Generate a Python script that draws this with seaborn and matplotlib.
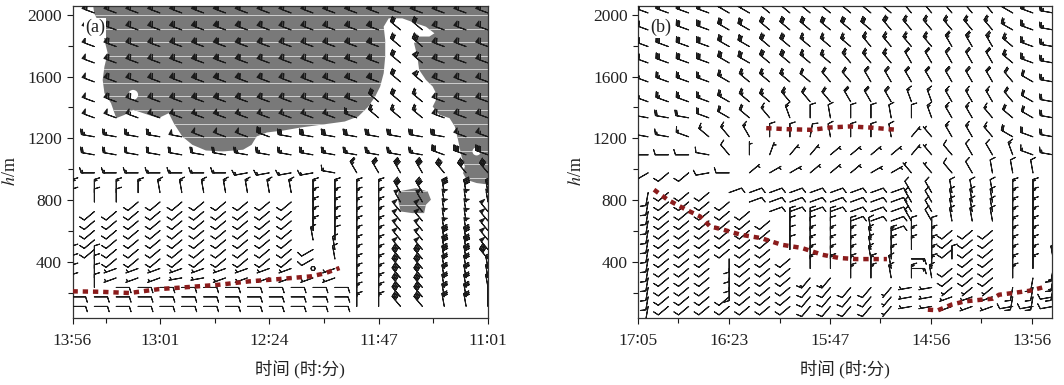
import numpy as np
import pandas as pd
import matplotlib
matplotlib.use("Agg")
import matplotlib.pyplot as plt
from matplotlib.patches import Polygon, Ellipse
import seaborn as sns

# range gates of the wind profiler (m)
heights = [2013, 1903, 1795, 1689, 1566, 1437, 1333, 1210, 1093, 976,
           848, 787, 725, 664, 602, 541, 479, 418, 356, 295, 233, 172, 110]

# one string per gate, one character per profile
# direction: base-36 digit x 10 deg (where the wind blows from)
# speed:     base-36 digit, m/s
a_cols = list(range(20))
a_dir = [
    "t" * 20,
    "t" * 15 + "vv" + "ttt",
    "t" * 15 + "vv" + "ttt",
    "t" * 15 + "vv" + "ttt",
    "t" * 15 + "vv" + "ttt",
    "t" * 14 + "vvv" + "ttt",
    "t" * 14 + "vvv" + "ttt",
    "ssssss" + "tttt" + "ssssssss" + "tt",
    "s" * 17 + "ttt",
    "rrrrrrrr" + "qqqq" + "s" + "xxxx" + "www",
    "0000" + "zzzzzzz" + "00" + "00" + "xx" + "zzz",
    "000" + "nnnnnnnn" + "00" + "00" + "xx" + "zzz",
    "o" + "nnnnnnnnnn" + "00" + "00" + "ww" + "zzw",
    "nnnnnnnnnnn" + "00" + "00" + "ww" + "zzw",
    "nnnnnnnnnnn" + "00" + "00" + "ww" + "zzw",
    "nnnnnnnnnnn" + "z0" + "00" + "ww" + "zzw",
    "nnnnnnnnnnn" + "oz" + "00" + "ww" + "zzw",
    "00" + "nnnnnnnnn" + "oz" + "00" + "ww" + "zzw",
    "00" + "ppppppppp" + "0p" + "00" + "ww" + "zzz",
    "00" + "pppqqpppp" + "pp" + "00" + "ww" + "zzz",
    "00" + "999999999" + "99" + "00" + "ww" + "zzz",
    "99999999999" + "99" + "00" + "ww" + "zz0",
    "99999999999" + "99" + "00" + "ww" + "zz0",
]
a_spd = [
    "o" * 20,
    "o" * 15 + "cc" + "ooo",
    "ok" + "o" * 13 + "cg" + "ooo",
    "ok" + "o" * 13 + "co" + "ooo",
    "ok" + "o" * 13 + "co" + "ooo",
    "ok" + "o" * 12 + "cca" + "ooo",
    "kkk" + "m" * 10 + "aaaa" + "ooo",
    "aaaaa" + "kkkk" + "c" * 9 + "mm",
    "8" * 8 + "a" * 9 + "c" + "gg",
    "6" * 13 + "acgg" + "ggg",
    "6" * 13 + "66" + "gg" + "ggg",
    "4" * 11 + "66" + "66" + "kk" + "kkk",
    "4" * 11 + "66" + "66" + "kk" + "kkk",
    "4" * 11 + "66" + "66" + "kk" + "kkk",
    "4" * 11 + "66" + "66" + "kk" + "kkk",
    "4" * 13 + "66" + "kk" + "ggk",
    "4" * 13 + "66" + "kk" + "ggk",
    "4" * 13 + "66" + "gg" + "ggg",
    "44" + "2" * 9 + "02" + "66" + "gg" + "ccc",
    "44" + "2" * 9 + "22" + "66" + "gg" + "ccc",
    "4" * 13 + "66" + "gg" + "ccc",
    "4" * 13 + "66" + "gg" + "ccc",
    "4" * 13 + "66" + "gg" + "ccc",
]

b_cols = [i + 0.5 for i in range(21)]
b_dir = [
    "tttt" "uuvv" "vvvvv" "wwwww" "uts",
    "tttt" "uuvv" "vvvvw" "wwwww" "uts",
    "tttt" "uuvv" "vvvww" "wwxxx" "vts",
    "tttt" "uuvv" "vvwww" "xxxxx" "vts",
    "tttt" "uvvv" "vwwxx" "xxxxx" "wus",
    "tttt" "uvvw" "wwxxx" "yyxxx" "wus",
    "ssst" "uvwy" "0z00z" "0yxxw" "vus",
    "sstv" "wx00" "1z00z" "4wxxw" "uts",
    "rrrs" "w024" "45555" "4wwxx" "yts",
    "onnq" "r566" "55566" "wwwxz" "zz0",
    "jnnn" "7777" "77777" "xxzzz" "000",
    "jnnn" "n777" "77777" "xxzzz" "000",
    "jnnn" "nn77" "77777" "xxzzz" "000",
    "jnnn" "nnn0" "00777" "xxzzz" "000",
    "jnnn" "nnn0" "000z7" "00nnn" "000",
    "jnnn" "nnn0" "000z0" "00nnn" "000",
    "jnnn" "nnn0" "000z0" "00nnn" "000",
    "jnnn" "innn" "000z0" "900nn" "00z",
    "jnnn" "innn" "0000z" "90nnn" "00j",
    "jnnn" "innn" "mm00z" "0znnn" "0jj",
    "jnnn" "innn" "mmmmm" "qqnnn" "jjj",
    "jnnn" "nnnn" "mmmmm" "qqppp" "jjq",
    "jnnn" "nnnn" "mmmmm" "qqppp" "qqq",
]
b_spd = [
    "aaaa" "cccc" "ccccc" "aaaaa" "aaa",
    "cccc" "cccc" "ccccc" "aaaaa" "aaa",
    "cccc" "cccc" "aaaaa" "aaaaa" "aaa",
    "cccc" "cccc" "aaaaa" "88888" "aaa",
    "aaaa" "aaaa" "88888" "88888" "88a",
    "aaaa" "aaaa" "88888" "66666" "888",
    "8888" "8866" "44444" "46666" "888",
    "6666" "6644" "44444" "22666" "888",
    "4444" "4222" "22222" "22444" "666",
    "4444" "4222" "22222" "22444" "444",
    "4444" "4444" "44444" "44444" "666",
    "4444" "4444" "44444" "44444" "666",
    "4444" "4444" "44444" "44444" "666",
    "4444" "4444" "44444" "44444" "666",
    "4444" "4444" "44444" "44444" "666",
    "4444" "4444" "66666" "66444" "666",
    "4444" "4444" "66666" "66444" "666",
    "4444" "4444" "66666" "66444" "666",
    "4444" "4444" "66666" "66444" "666",
    "4444" "4444" "66666" "66444" "666",
    "4444" "4444" "44442" "22222" "444",
    "4444" "4444" "44442" "22222" "444",
    "4444" "4444" "44442" "22222" "444",
]

# time axes (profile index -> clock time)
a_ticks = [0, 4, 9, 14, 19]
a_labels = ["13\u223656", "13\u223601", "12\u223624", "11\u223647", "11\u223601"]
a_minor = [1.53, 6.5, 11.5, 16.5]
b_ticks = [0, 4.48, 9.47, 14.46, 19.45]
b_labels = ["17\u223605", "16\u223623", "15\u223647", "14\u223656", "13\u223656"]
b_minor = [1.96, 7.0, 11.94, 16.93]

# cloud area in panel (a)
cloud_x = [0.91, 0.99, 1.30, 1.46, 1.61, 1.46, 1.38, 1.46, 1.76, 2.00, 2.38, 2.77,
           3.47, 3.93, 4.24, 4.40, 4.63, 5.02, 5.48, 6.10, 6.87, 7.80, 8.19, 8.42,
           8.89, 9.66, 10.43, 11.36, 12.45, 13.07, 13.53, 13.84, 14.07, 14.23, 14.30,
           14.30, 14.23, 14.46, 15.08, 15.70, 16.16, 16.55, 16.32, 15.85, 15.62, 15.77,
           15.85, 16.16, 16.47, 16.70, 16.47, 16.78, 17.24, 17.48, 17.63, 17.79, 17.94,
           17.86, 18.02, 18.48, 19.10, 19.10]
cloud_h = [2100, 2011, 1924, 1838, 1752, 1665, 1579, 1493, 1428, 1331, 1352, 1385,
           1352, 1331, 1352, 1363, 1298, 1212, 1158, 1121, 1115, 1126, 1158, 1212,
           1238, 1251, 1270, 1288, 1309, 1342, 1406, 1471, 1536, 1622, 1730,
           1838, 1924, 1978, 1978, 1946, 1924, 1881, 1860, 1860, 1816, 1730,
           1644, 1579, 1536, 1471, 1406, 1352, 1331, 1277, 1190, 1082, 1018,
           974, 931, 910, 899, 2100]
blob_x = [14.92, 15.70, 16.24, 16.39, 16.16, 16.08, 15.54, 15.00, 14.92, 14.85]
blob_h = [856, 877, 856, 802, 769, 715, 715, 726, 780, 823]
holes = [(2.77, 1482, 0.46, 64), (18.48, 1115, 0.38, 52)]
stripe_h = [2000, 1912, 1824, 1736, 1648, 1560, 1472, 1384, 1296, 1208, 1120, 1032, 944, 856, 768]

# dotted boundary-layer tops
a_pbl_x = [0, 1.30, 2.61, 3.93, 5.33, 6.72, 8.11, 9.50, 10.90, 11.52, 12.21]
a_pbl_h = [208, 205, 197, 222, 236, 251, 273, 288, 305, 324, 359]
b_top_x = [6.33, 7.42, 8.60, 9.44, 10.44, 11.45, 12.80]
b_top_h = [1266, 1259, 1255, 1270, 1277, 1270, 1255]
b_mid_x = [0.79, 1.46, 2.38, 3.06, 3.56, 4.23, 5.07, 6.08, 7.09, 8.09, 9.10, 9.94, 10.78, 11.62, 12.29]
b_mid_h = [867, 802, 737, 694, 629, 607, 575, 553, 510, 489, 445, 424, 417, 417, 417]
b_low_x = [14.31, 14.81, 15.48, 16.15, 16.99, 17.50, 17.83, 18.51, 19.35, 20.18]
b_low_h = [89, 85, 122, 143, 154, 160, 186, 197, 212, 240]

RED = "#8b1c1c"
GRAY = "#797979"


def wind_frame(cols, dirs, spds):
    rows = []
    for h, drow, srow in zip(heights, dirs, spds):
        assert len(drow) == len(cols) and len(srow) == len(cols), (h, len(drow), len(srow))
        for x, dc, sc in zip(cols, drow, srow):
            rows.append((x, h, int(dc, 36) * 10, int(sc, 36)))
    df = pd.DataFrame(rows, columns=["x", "h", "dir", "spd"])
    rad = np.deg2rad(df["dir"])
    df["u"] = -df["spd"] * np.sin(rad)
    df["v"] = -df["spd"] * np.cos(rad)
    return df


sns.set_theme(style="ticks")
plt.rcParams["font.family"] = ["Liberation Serif", "DejaVu Sans", "Noto Sans CJK SC"]
plt.rcParams["mathtext.fontset"] = "stix"

fig = plt.figure(figsize=(10.64, 3.85), dpi=100)
ax_a = fig.add_axes([72.5 / 1064, 67 / 385, 415.5 / 1064, 312 / 385])
ax_b = fig.add_axes([638 / 1064, 67 / 385, 414 / 1064, 312 / 385])

# cloud shading
cloud = Polygon(np.column_stack([cloud_x, cloud_h]), closed=True, fc=GRAY, ec="none", zorder=1)
blob = Polygon(np.column_stack([blob_x, blob_h]), closed=True, fc=GRAY, ec="none", zorder=1)
ax_a.add_patch(cloud)
ax_a.add_patch(blob)
for patch in (cloud, blob):
    lines = ax_a.hlines(stripe_h, 0, 19, colors="#cfcfcf", lw=0.7, zorder=1.2)
    lines.set_clip_path(patch)
for hx, hh, hw, hht in holes:
    ax_a.add_patch(Ellipse((hx, hh), hw, hht, fc="white", ec="none", zorder=1.5))

incr = dict(half=2, full=4, flag=20)
for ax, cols, dirs, spds in [(ax_a, a_cols, a_dir, a_spd), (ax_b, b_cols, b_dir, b_spd)]:
    df = wind_frame(cols, dirs, spds)
    ax.barbs(df["x"], df["h"], df["u"], df["v"], length=4.35, linewidth=0.75,
             barb_increments=incr, color="k", zorder=3)

line_kw = dict(color=RED, linewidth=3.2, linestyle=(0, (1.2, 1.1)),
               dash_capstyle="butt", zorder=4, legend=False)
sns.lineplot(x=a_pbl_x, y=a_pbl_h, ax=ax_a, **line_kw)
sns.lineplot(x=b_top_x, y=b_top_h, ax=ax_b, **line_kw)
sns.lineplot(x=b_mid_x, y=b_mid_h, ax=ax_b, **line_kw)
sns.lineplot(x=b_low_x, y=b_low_h, ax=ax_b, **line_kw)

for ax, xmax, ticks, labels, minor, tag, xlab_x in [
        (ax_a, 19, a_ticks, a_labels, a_minor, "(a)", 0.547),
        (ax_b, 20.44, b_ticks, b_labels, b_minor, "(b)", 0.5)]:
    ax.set_xlim(0, xmax)
    ax.set_ylim(35, 2058)
    ax.set_xticks(ticks)
    ax.set_xticklabels(labels)
    ax.set_xticks(minor, minor=True)
    ax.set_yticks([400, 800, 1200, 1600, 2000])
    ax.set_yticks([200, 600, 1000, 1400, 1800], minor=True)
    ax.tick_params(axis="both", which="both", direction="out", color="k",
                   width=0.8, labelsize=12.5, labelcolor="#222222")
    ax.tick_params(axis="both", which="major", length=4.5)
    ax.tick_params(axis="both", which="minor", length=3.5)
    ax.tick_params(axis="x", pad=6)
    ax.tick_params(axis="y", pad=3)
    for sp in ax.spines.values():
        sp.set_visible(True)
        sp.set_color("#333333")
        sp.set_linewidth(0.9)
    ax.set_xlabel("时间 (时\u2236分)", fontsize=12.5, color="#222222")
    ax.xaxis.set_label_coords(xlab_x, -0.135)
    ax.set_ylabel("$h$/m", fontsize=13, color="#222222")
    ax.yaxis.set_label_coords(-0.128, 0.47)
    ax.text(0.03, 0.93, tag, transform=ax.transAxes, fontsize=13, color="#222222",
            ha="left", va="center", zorder=6,
            bbox=dict(fc="white", ec="none", pad=1.0))

fig.savefig("out.png", dpi=100)
